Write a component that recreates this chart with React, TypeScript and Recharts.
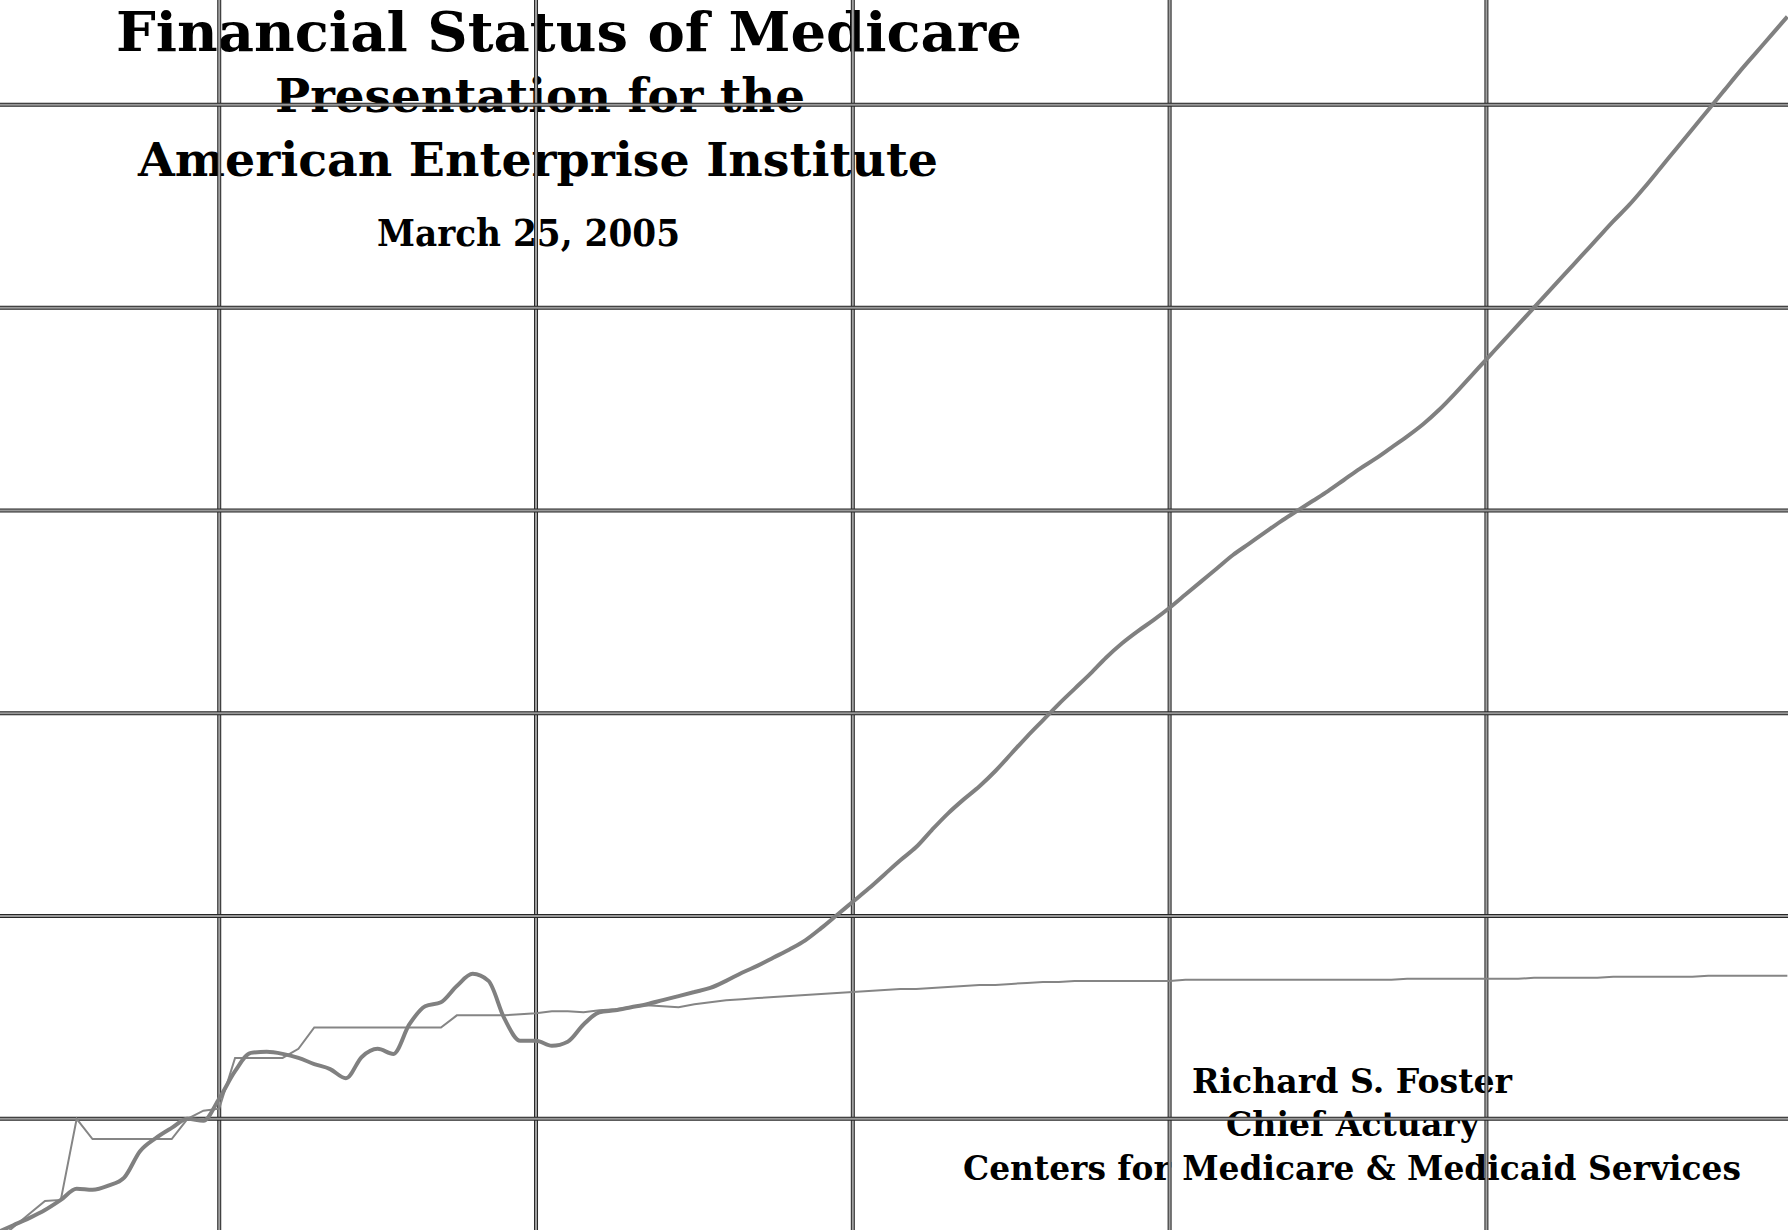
import { Line, LineChart, ReferenceLine, XAxis, YAxis } from "recharts";

const startYear = 1966;

// cost rate (thick curve), one value per year 1966-2079
const costRate = [
  0.88, 0.95, 1.02, 1.1, 1.2, 1.31, 1.3, 1.34, 1.42, 1.68,
  1.81, 1.91, 2.0, 1.98, 2.2, 2.47, 2.65, 2.66, 2.64, 2.6,
  2.54, 2.49, 2.4, 2.61, 2.69, 2.64, 2.93, 3.11, 3.15, 3.31,
  3.43, 3.36, 2.99, 2.77, 2.77, 2.72, 2.76, 2.93, 3.05, 3.07,
  3.1, 3.13, 3.17, 3.21, 3.25, 3.29, 3.36, 3.44, 3.51, 3.59,
  3.67, 3.76, 3.88, 4.01, 4.14, 4.27, 4.41, 4.55, 4.68, 4.85,
  5.01, 5.15, 5.28, 5.43, 5.6, 5.77, 5.93, 6.09, 6.24, 6.39,
  6.55, 6.69, 6.81, 6.92, 7.04, 7.17, 7.3, 7.43, 7.56, 7.67,
  7.78, 7.89, 7.99, 8.09, 8.19, 8.3, 8.41, 8.51, 8.62, 8.73,
  8.85, 8.99, 9.15, 9.32, 9.49, 9.66, 9.83, 10.0, 10.17, 10.34,
  10.51, 10.68, 10.85, 11.01, 11.19, 11.38, 11.57, 11.76, 11.95, 12.14,
  12.33, 12.51, 12.69, 12.87,
];

// income rate (thin line), same years
const incomeRate = [
  0.8, 0.93, 1.06, 1.19, 1.2, 2.0, 1.8, 1.8, 1.8, 1.8,
  1.8, 1.8, 2.0, 2.08, 2.1, 2.6, 2.6, 2.6, 2.6, 2.69,
  2.9, 2.9, 2.9, 2.9, 2.9, 2.9, 2.9, 2.9, 2.9, 3.02,
  3.02, 3.02, 3.02, 3.03, 3.04, 3.06, 3.06, 3.05, 3.07, 3.08,
  3.1, 3.12, 3.11, 3.1, 3.13, 3.15, 3.17, 3.18, 3.19, 3.2,
  3.21, 3.22, 3.23, 3.24, 3.25, 3.26, 3.27, 3.28, 3.28, 3.29,
  3.3, 3.31, 3.32, 3.32, 3.33, 3.34, 3.35, 3.35, 3.36, 3.36,
  3.36, 3.36, 3.36, 3.36, 3.36, 3.37, 3.37, 3.37, 3.37, 3.37,
  3.37, 3.37, 3.37, 3.37, 3.37, 3.37, 3.37, 3.37, 3.37, 3.38,
  3.38, 3.38, 3.38, 3.38, 3.38, 3.38, 3.38, 3.39, 3.39, 3.39,
  3.39, 3.39, 3.4, 3.4, 3.4, 3.4, 3.4, 3.4, 3.41, 3.41,
  3.41, 3.41, 3.41, 3.41,
];

const years = costRate.map((_, i) => startYear + i);

const xGrid = [1980, 2000, 2020, 2040, 2060];
const yGrid = [2, 4, 6, 8, 10, 12];

const titleLines = [
  { text: "Financial Status of Medicare", x: 116, y: 51, w: 906, size: 54 },
  { text: "Presentation for the", x: 275, y: 112, w: 530, size: 47 },
  { text: "American Enterprise Institute", x: 138, y: 176, w: 800, size: 47 },
  { text: "March 25, 2005", x: 377, y: 246, w: 303, size: 38 },
  { text: "Richard S. Foster", x: 1192, y: 1093, w: 320, size: 34 },
  { text: "Chief Actuary", x: 1226, y: 1136, w: 253, size: 34 },
  { text: "Centers for Medicare & Medicaid Services", x: 963, y: 1180, w: 778, size: 33 },
];

const W = 1788;
const H = 1230;

export default function App() {
  const data = years.map((year, i) => ({
    year,
    cost: costRate[i],
    income: incomeRate[i],
  }));

  return (
    <div
      style={{
        position: "absolute",
        left: 0,
        top: 0,
        width: W,
        height: H,
        background: "#ffffff",
        overflow: "hidden",
      }}
    >
      <svg width={W} height={H} style={{ position: "absolute", left: 0, top: 0 }}>
        {titleLines.map((t) => (
          <text
            key={t.text}
            x={t.x}
            y={t.y}
            textLength={t.w}
            lengthAdjust="spacingAndGlyphs"
            fontFamily="'DejaVu Serif', serif"
            fontWeight="bold"
            fontSize={t.size}
            fill="#000"
          >
            {t.text}
          </text>
        ))}
      </svg>
      <div style={{ position: "absolute", left: 0, top: 0 }}>
        <LineChart width={W} height={H} data={data} margin={{ top: 0, right: 0, bottom: 0, left: 0 }}>
          <XAxis type="number" dataKey="year" domain={[1966.16, 2079.04]} allowDataOverflow hide />
          <YAxis type="number" domain={[0.903, 13.034]} allowDataOverflow hide />
          {xGrid.map((x) => (
            <ReferenceLine key={`xd${x}`} x={x} stroke="#262626" strokeWidth={4} />
          ))}
          {xGrid.map((x) => (
            <ReferenceLine key={`xl${x}`} x={x} stroke="#a0a0a0" strokeWidth={2} />
          ))}
          {yGrid.map((y) => (
            <ReferenceLine key={`yd${y}`} y={y} stroke="#262626" strokeWidth={4} />
          ))}
          {yGrid.map((y) => (
            <ReferenceLine key={`yl${y}`} y={y} stroke="#999999" strokeWidth={2} />
          ))}
          <Line
            dataKey="income"
            type="linear"
            stroke="#858585"
            strokeWidth={2}
            dot={false}
            isAnimationActive={false}
          />
          <Line
            dataKey="cost"
            type="monotone"
            stroke="#808080"
            strokeWidth={4}
            dot={false}
            isAnimationActive={false}
          />
        </LineChart>
      </div>
    </div>
  );
}
